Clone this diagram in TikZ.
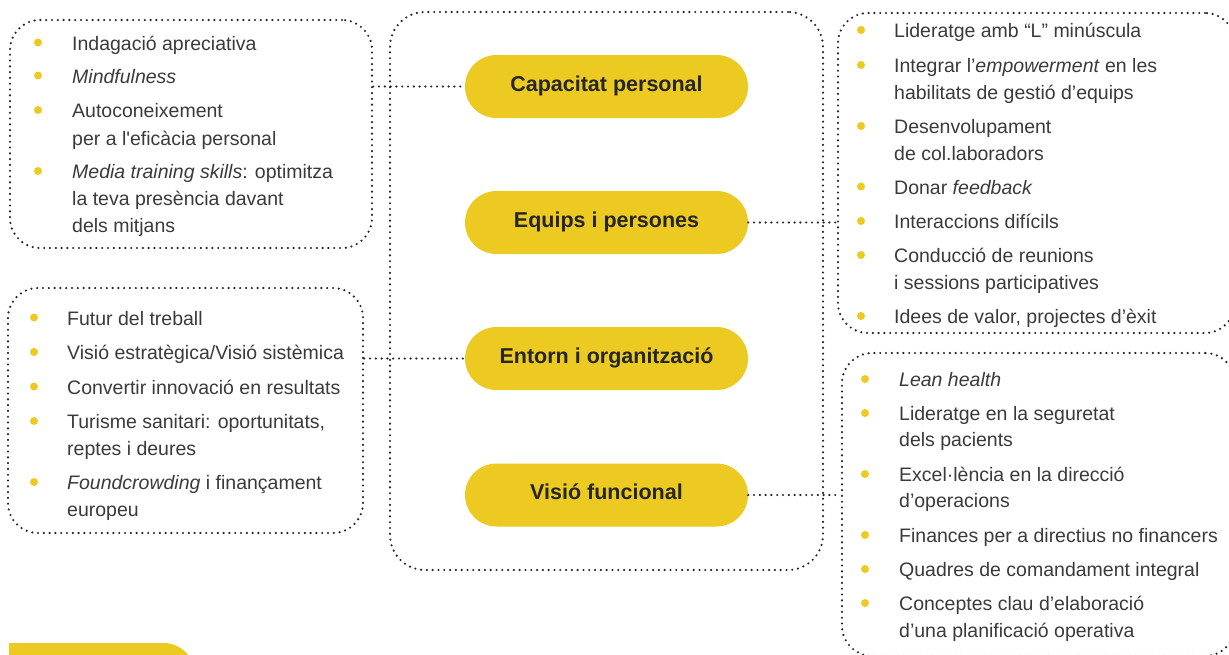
\documentclass[tikz,border=0pt]{standalone}
\usepackage{fontspec}
\setmainfont{Liberation Sans}[Ligatures=TeXOff]
\definecolor{pillc}{RGB}{236,202,34}
\definecolor{txtc}{RGB}{58,58,58}
\definecolor{dotc}{RGB}{35,35,35}
\begin{document}
\begin{tikzpicture}[x=1pt,y=-1pt,
  dotline/.style={draw=dotc, line width=2.4pt, line cap=round, dash pattern=on 0pt off 5.8pt},
  box/.style={dotline, rectangle, rounded corners=30pt, inner sep=0pt},
  pill/.style={fill=pillc, rectangle, rounded corners=31.5pt, minimum width=283pt, minimum height=63pt, inner sep=0pt, text=black!85, font=\fontsize{21.5}{24}\selectfont\bfseries, text height=15pt, text depth=6pt},
  itm/.style={anchor=base west, inner sep=0pt, text=txtc, font=\fontsize{19.5}{24}\selectfont},
  bul/.style={circle, fill=pillc, inner sep=0pt, minimum size=8pt}]
\useasboundingbox (0,0) rectangle (1229,654);

% boxes
\node[box, minimum width=362pt, minimum height=228pt] (lt) at (191,134) {};
\node[box, rounded corners=35pt, minimum width=433pt, minimum height=558pt] (cen) at (606.5,291) {};
\node[box, minimum width=397pt, minimum height=320pt] (rt) at (1036.5,173) {};
\node[box, minimum width=355pt, minimum height=245pt] (lb) at (185.5,410.5) {};
\node[box, minimum width=393pt, minimum height=303pt] (rb) at (1038.5,504.5) {};

% pills
\node[pill] (cap) at (606.5,86.5) {Capacitat personal};
\node[pill] (eqp) at (606.5,222.5) {Equips i persones};
\node[pill] (ent) at (606.5,358.5) {Entorn i organització};
\node[pill] (vis) at (606.5,495) {Visió funcional};

% partial pill bottom-left
\fill[pillc] (9,706) -- (9,643) [rounded corners=31.5pt] -- (195,643) -- (195,706) -- cycle;

% connectors
\draw[dotline] (cap.west -| lt.east) -- (cap.west);
\draw[dotline] (eqp.east) -- (eqp.east -| rt.west);
\draw[dotline] (ent.west -| lb.east) -- (ent.west);
\draw[dotline] (vis.east) -- (vis.east -| rb.west);

% left top list
\node[bul] (blt1) at (38,42.5) {};
\node[itm] (lt1) at (72,50) {Indagació apreciativa};
\node[bul] (blt2) at (38,75.5) {};
\node[itm] (lt2) at (72,83) {\textit{Mindfulness}};
\node[bul] (blt3) at (38,110) {};
\node[itm] (lt3a) at (72,117.5) {Autoconeixement};
\node[itm] (lt3b) at (72,145) {per a l'eficàcia personal};
\node[bul] (blt4) at (38,171) {};
\node[itm] (lt4a) at (72,178.5) {\textit{Media training skills}: optimitza};
\node[itm] (lt4b) at (72,205) {la teva presència davant};
\node[itm] (lt4c) at (72,232) {dels mitjans};

% right top list
\node[bul] (brt1) at (861,30) {};
\node[itm] (rt1) at (894,37.5) {Lideratge amb “L” minúscula};
\node[bul] (brt2) at (861,65) {};
\node[itm] (rt2a) at (894,72.5) {Integrar l’\textit{empowerment} en les};
\node[itm] (rt2b) at (894,99.5) {habilitats de gestió d’equips};
\node[bul] (brt3) at (861,126) {};
\node[itm] (rt3a) at (894,133.5) {Desenvolupament};
\node[itm] (rt3b) at (894,160.5) {de col.laboradors};
\node[bul] (brt4) at (861,186.5) {};
\node[itm] (rt4) at (894,194) {Donar \textit{feedback}};
\node[bul] (brt5) at (861,221) {};
\node[itm] (rt5) at (894,228.5) {Interaccions difícils};
\node[bul] (brt6) at (861,255) {};
\node[itm] (rt6a) at (894,262.5) {Conducció de reunions};
\node[itm] (rt6b) at (894,289) {i sessions participatives};
\node[bul] (brt7) at (861,316) {};
\node[itm] (rt7) at (894,323.5) {Idees de valor, projectes d’èxit};

% left bottom list
\node[bul] (blb1) at (34,317.5) {};
\node[itm] (lb1) at (67,325) {Futur del treball};
\node[bul] (blb2) at (34,352) {};
\node[itm] (lb2) at (67,359.5) {Visió estratègica/Visió sistèmica};
\node[bul] (blb3) at (34,386.5) {};
\node[itm] (lb3) at (67,394) {Convertir innovació en resultats};
\node[bul] (blb4) at (34,421) {};
\node[itm] (lb4a) at (67,428.5) {Turisme sanitari: oportunitats,};
\node[itm] (lb4b) at (67,455) {reptes i deures};
\node[bul] (blb5) at (34,482) {};
\node[itm] (lb5a) at (67,489.5) {\textit{Foundcrowding} i finançament};
\node[itm] (lb5b) at (67,516) {europeu};

% right bottom list
\node[bul] (brb1) at (865,379) {};
\node[itm] (rb1) at (899,386.5) {\textit{Lean health}};
\node[bul] (brb2) at (865,413) {};
\node[itm] (rb2a) at (899,420.5) {Lideratge en la seguretat};
\node[itm] (rb2b) at (899,446.5) {dels pacients};
\node[bul] (brb3) at (865,474) {};
\node[itm] (rb3a) at (899,481.5) {Excel·lència en la direcció};
\node[itm] (rb3b) at (899,507.5) {d’operacions};
\node[bul] (brb4) at (865,535) {};
\node[itm] (rb4) at (899,542.5) {Finances per a directius no financers};
\node[bul] (brb5) at (865,569) {};
\node[itm] (rb5) at (899,576.5) {Quadres de comandament integral};
\node[bul] (brb6) at (865,603) {};
\node[itm] (rb6a) at (899,610.5) {Conceptes clau d’elaboració};
\node[itm] (rb6b) at (899,637.5) {d’una planificació operativa};
\end{tikzpicture}
\end{document}
